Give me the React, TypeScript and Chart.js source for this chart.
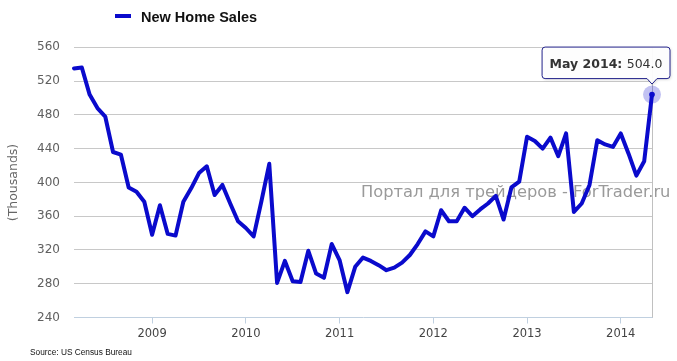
import React, { useEffect, useRef } from 'react';
import { Chart, registerables } from 'chart.js';

Chart.register(...registerables);

const months: string[] = [
  'Mar 2008', 'Apr 2008', 'May 2008', 'Jun 2008', 'Jul 2008', 'Aug 2008', 'Sep 2008', 'Oct 2008', 'Nov 2008', 'Dec 2008',
  'Jan 2009', 'Feb 2009', 'Mar 2009', 'Apr 2009', 'May 2009', 'Jun 2009', 'Jul 2009', 'Aug 2009', 'Sep 2009', 'Oct 2009', 'Nov 2009', 'Dec 2009',
  'Jan 2010', 'Feb 2010', 'Mar 2010', 'Apr 2010', 'May 2010', 'Jun 2010', 'Jul 2010', 'Aug 2010', 'Sep 2010', 'Oct 2010', 'Nov 2010', 'Dec 2010',
  'Jan 2011', 'Feb 2011', 'Mar 2011', 'Apr 2011', 'May 2011', 'Jun 2011', 'Jul 2011', 'Aug 2011', 'Sep 2011', 'Oct 2011', 'Nov 2011', 'Dec 2011',
  'Jan 2012', 'Feb 2012', 'Mar 2012', 'Apr 2012', 'May 2012', 'Jun 2012', 'Jul 2012', 'Aug 2012', 'Sep 2012', 'Oct 2012', 'Nov 2012', 'Dec 2012',
  'Jan 2013', 'Feb 2013', 'Mar 2013', 'Apr 2013', 'May 2013', 'Jun 2013', 'Jul 2013', 'Aug 2013', 'Sep 2013', 'Oct 2013', 'Nov 2013', 'Dec 2013',
  'Jan 2014', 'Feb 2014', 'Mar 2014', 'Apr 2014', 'May 2014',
];

const newHomeSales: number[] = [
  535, 536, 504, 488, 478, 436, 433, 394, 389, 377,
  338, 373, 339, 337, 377, 393, 411, 419, 385, 397, 375, 354,
  346, 336, 378, 422, 281, 307, 283, 282, 319, 292, 287, 327,
  308, 270, 300, 311, 307, 302, 296, 299, 305, 314, 327, 342,
  336, 367, 354, 354, 370, 360, 368, 375, 384, 356, 394, 401,
  454, 449, 440, 453, 431, 458, 365, 375, 397, 450, 445, 442,
  458, 434, 408, 425, 504,
];

const yMin = 240;
const yMax = 560;
const yStep = 40;

const seriesName = 'New Home Sales';
const yTitle = '(Thousands)';
const sourceText = 'Source: US Census Bureau';
const watermarkText = 'Портал для трейдеров - ForTrader.ru';
const hoverIndex = newHomeSales.length - 1;

const LINE_COLOR = '#0a0acc';

const decorPlugin = {
  id: 'decor',
  beforeDraw(chart: any) {
    const ctx = chart.ctx;
    ctx.save();
    ctx.fillStyle = '#ffffff';
    ctx.fillRect(0, 0, chart.width, chart.height);
    ctx.restore();
  },
  beforeDatasetsDraw(chart: any) {
    const ctx = chart.ctx;
    const xs = chart.scales.x;
    const ys = chart.scales.y;
    ctx.save();
    // watermark
    ctx.font = '16.3px "DejaVu Sans"';
    ctx.fillStyle = '#9a9a9a';
    ctx.textAlign = 'left';
    ctx.textBaseline = 'alphabetic';
    ctx.fillText(watermarkText, 361, 197);
    // crosshair
    const px = xs.getPixelForValue(hoverIndex);
    ctx.strokeStyle = '#c0c0c0';
    ctx.lineWidth = 1;
    ctx.beginPath();
    ctx.moveTo(Math.round(px) + 0.5, chart.chartArea.top);
    ctx.lineTo(Math.round(px) + 0.5, ys.getPixelForValue(yMin));
    ctx.stroke();
    ctx.restore();
  },
  afterDraw(chart: any) {
    const ctx = chart.ctx;
    const xs = chart.scales.x;
    const ys = chart.scales.y;
    ctx.save();
    // legend
    ctx.strokeStyle = LINE_COLOR;
    ctx.lineWidth = 4;
    ctx.beginPath();
    ctx.moveTo(115, 16);
    ctx.lineTo(131, 16);
    ctx.stroke();
    ctx.font = 'bold 14.5px "Liberation Sans"';
    ctx.fillStyle = '#111111';
    ctx.textBaseline = 'alphabetic';
    ctx.textAlign = 'left';
    ctx.fillText(seriesName, 141, 21.5);

    // y title
    ctx.save();
    ctx.translate(17, 182.5);
    ctx.rotate(-Math.PI / 2);
    ctx.font = '12.5px "DejaVu Sans"';
    ctx.fillStyle = '#666666';
    ctx.textAlign = 'center';
    ctx.fillText(yTitle, 0, 0);
    ctx.restore();

    // source
    ctx.font = '8.3px "Liberation Sans"';
    ctx.fillStyle = '#111111';
    ctx.textAlign = 'left';
    ctx.fillText(sourceText, 30, 355);

    // hover marker
    const px = xs.getPixelForValue(hoverIndex);
    const py = ys.getPixelForValue(newHomeSales[hoverIndex]);
    ctx.fillStyle = 'rgba(10,10,204,0.25)';
    ctx.beginPath();
    ctx.arc(px, py, 9, 0, Math.PI * 2);
    ctx.fill();
    ctx.fillStyle = LINE_COLOR;
    ctx.beginPath();
    ctx.arc(px, py, 2.8, 0, Math.PI * 2);
    ctx.fill();

    // tooltip
    const title = months[hoverIndex] + ': ';
    const val = newHomeSales[hoverIndex].toFixed(1);
    ctx.font = 'bold 12.5px "DejaVu Sans"';
    const tw = ctx.measureText(title).width;
    ctx.font = '12.5px "DejaVu Sans"';
    const vw = ctx.measureText(val).width;
    const right = px + 18;
    const left = right - (tw + vw + 15);
    const top = py - 47.5;
    const bottom = py - 16;
    const r = 3;
    ctx.beginPath();
    ctx.moveTo(left + r, top);
    ctx.lineTo(right - r, top);
    ctx.quadraticCurveTo(right, top, right, top + r);
    ctx.lineTo(right, bottom - r);
    ctx.quadraticCurveTo(right, bottom, right - r, bottom);
    ctx.lineTo(px + 5, bottom);
    ctx.lineTo(px, py - 10.5);
    ctx.lineTo(px - 5, bottom);
    ctx.lineTo(left + r, bottom);
    ctx.quadraticCurveTo(left, bottom, left, bottom - r);
    ctx.lineTo(left, top + r);
    ctx.quadraticCurveTo(left, top, left + r, top);
    ctx.closePath();
    ctx.save();
    ctx.shadowColor = 'rgba(0,0,0,0.18)';
    ctx.shadowOffsetX = 1;
    ctx.shadowOffsetY = 1;
    ctx.shadowBlur = 3;
    ctx.fillStyle = 'rgba(255,255,255,0.95)';
    ctx.fill();
    ctx.restore();
    ctx.strokeStyle = '#22228a';
    ctx.lineWidth = 1;
    ctx.stroke();
    ctx.fillStyle = '#333333';
    ctx.textAlign = 'left';
    ctx.font = 'bold 12.5px "DejaVu Sans"';
    ctx.fillText(title, left + 7.5, top + 21);
    ctx.font = '12.5px "DejaVu Sans"';
    ctx.fillText(val, left + 7.5 + tw, top + 21);
    ctx.restore();
  },
};

export default function App() {
  const canvasRef = useRef<HTMLCanvasElement | null>(null);

  useEffect(() => {
    const canvas = canvasRef.current;
    if (!canvas) return;
    const chart = new Chart(canvas, {
      type: 'line',
      data: {
        labels: months,
        datasets: [
          {
            label: seriesName,
            data: newHomeSales,
            borderColor: LINE_COLOR,
            backgroundColor: LINE_COLOR,
            borderWidth: 4,
            borderJoinStyle: 'round',
            borderCapStyle: 'round',
            pointRadius: 0,
            tension: 0,
            fill: false,
          },
        ],
      },
      options: {
        responsive: false,
        animation: false,
        devicePixelRatio: 1,
        layout: { padding: { top: 47.3, right: 25, left: 0, bottom: 0 } },
        plugins: {
          legend: { display: false },
          tooltip: { enabled: false },
          title: { display: false },
        },
        events: [],
        scales: {
          x: {
            type: 'category',
            offset: false,
            afterFit: (scale: any) => {
              scale.height = 43.5;
            },
            grid: {
              drawOnChartArea: false,
              drawTicks: true,
              tickLength: 6,
              color: (c: any) => (months[c.index] && months[c.index].startsWith('Jan') ? '#c0d0e0' : 'rgba(0,0,0,0)'),
            },
            border: { display: true, color: '#c0d0e0', width: 1 },
            ticks: {
              autoSkip: false,
              maxRotation: 0,
              minRotation: 0,
              padding: 4,
              color: '#444444',
              font: { family: '"DejaVu Sans"', size: 11.5 },
              callback: (_v: any, i: number) => (months[i].startsWith('Jan') ? months[i].slice(4) : ''),
            },
          },
          y: {
            min: yMin,
            max: yMax,
            afterFit: (scale: any) => {
              scale.width = 74;
            },
            grid: {
              drawTicks: false,
              color: (c: any) => (c.tick && c.tick.value === yMin ? 'rgba(0,0,0,0)' : '#c8c8c8'),
              lineWidth: 1,
            },
            border: { display: false },
            ticks: {
              stepSize: yStep,
              padding: 14,
              color: '#606060',
              font: { family: '"DejaVu Sans"', size: 12 },
            },
          },
        },
      },
      plugins: [decorPlugin],
    } as any);
    return () => chart.destroy();
  }, []);

  return (
    <div style={{ position: 'fixed', left: 0, top: 0, width: 677, height: 361, background: '#fff' }}>
      <canvas ref={canvasRef} width={677} height={361} style={{ display: 'block', width: 677, height: 361 }} />
    </div>
  );
}
